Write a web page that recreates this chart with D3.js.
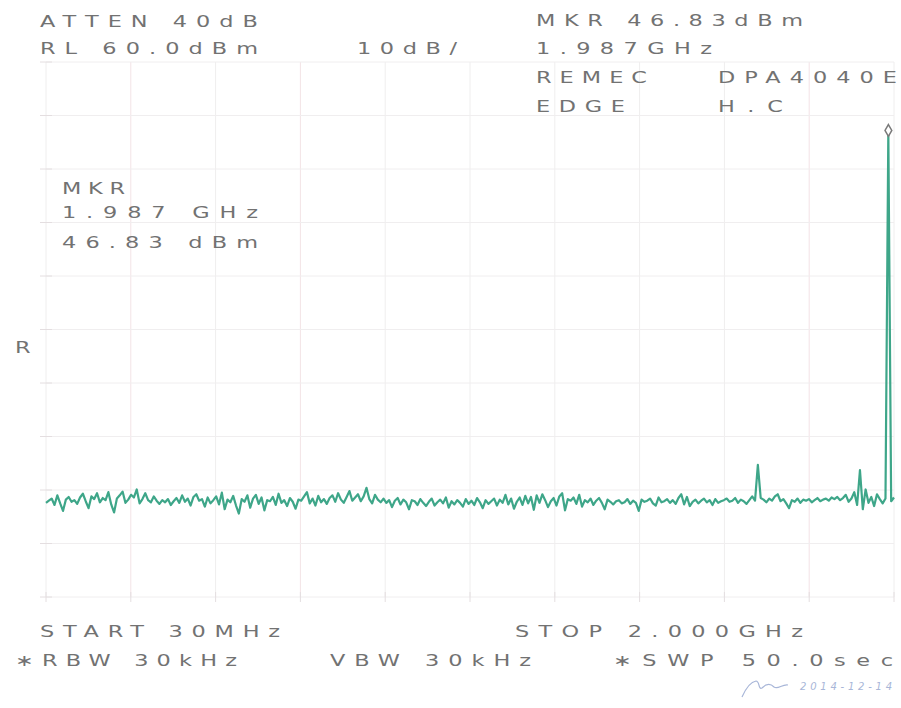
<!DOCTYPE html>
<html>
<head>
<meta charset="utf-8">
<script src="https://cdn.jsdelivr.net/npm/d3@7"></script>
<style>
  html, body { margin: 0; padding: 0; background: #ffffff; }
  svg { display: block; }
  text { font-family: "DejaVu Sans", sans-serif; fill: #727272; }
</style>
</head>
<body>
<svg id="chart" width="901" height="708"></svg>
<script>
// ---- Instrument settings (spectrum analyzer plot) ----
const startMHz = 30;
const stopMHz = 2000;
const refLevel = 60;      // dBm, top of screen
const dbPerDiv = 10;
const divisionsX = 10;
const divisionsY = 10;

// ---- Marker ----
const markerFreqMHz = 1987;
const markerLevel = 46.83;

// ---- Trace levels (dBm), 300 sweep points from START to STOP ----
const traceLevels = [
  -22.4,-22.0,-21.6,-22.8,-21.0,-22.5,-23.9,-21.8,-21.3,-22.2,
  -21.9,-22.6,-21.4,-20.7,-22.1,-23.4,-21.2,-21.7,-20.6,-22.3,
  -21.5,-21.9,-20.4,-22.7,-24.2,-21.6,-21.0,-20.3,-22.4,-21.8,
  -20.9,-21.4,-19.9,-22.5,-21.7,-20.6,-21.9,-22.3,-21.2,-22.0,
  -22.6,-21.9,-22.3,-21.7,-22.8,-22.1,-21.5,-22.4,-21.0,-22.2,
  -21.6,-22.9,-21.3,-20.8,-22.0,-21.7,-23.1,-21.4,-22.5,-21.9,
  -21.2,-22.7,-20.5,-23.6,-21.8,-22.3,-21.1,-22.9,-24.4,-21.7,
  -22.2,-21.0,-23.3,-21.6,-20.9,-22.6,-21.4,-23.8,-21.9,-22.1,
  -21.3,-22.8,-20.7,-22.4,-21.9,-23.0,-21.5,-22.2,-23.5,-21.8,
  -22.0,-21.2,-20.4,-22.5,-21.6,-22.9,-21.1,-22.3,-21.7,-22.6,
  -21.5,-21.0,-22.2,-20.6,-21.8,-22.4,-21.3,-20.2,-22.0,-21.4,
  -20.8,-22.1,-21.2,-19.6,-21.7,-22.5,-20.9,-21.8,-22.3,-21.6,
  -22.4,-21.9,-23.2,-22.0,-21.5,-22.7,-21.8,-22.3,-23.6,-21.9,
  -22.1,-22.8,-21.7,-22.4,-23.0,-22.2,-21.6,-22.9,-22.3,-21.8,
  -22.5,-21.4,-23.3,-22.1,-22.7,-21.9,-22.4,-23.1,-21.7,-22.6,
  -22.0,-22.8,-21.5,-22.3,-23.4,-21.9,-22.6,-22.1,-21.6,-22.9,
  -21.8,-22.4,-20.9,-22.7,-21.6,-23.5,-22.2,-21.4,-22.8,-21.1,
  -22.5,-21.3,-23.7,-21.0,-22.4,-20.8,-21.9,-23.2,-22.1,-21.5,
  -22.9,-21.2,-20.6,-23.8,-21.7,-22.0,-21.4,-22.6,-20.9,-23.1,
  -21.9,-22.3,-21.6,-22.8,-22.0,-21.5,-22.4,-23.6,-21.8,-22.2,
  -22.7,-22.1,-21.9,-22.5,-22.3,-21.7,-22.6,-22.0,-22.4,-23.9,
  -21.8,-22.2,-22.0,-21.6,-22.5,-22.9,-21.4,-22.3,-22.1,-21.7,
  -22.4,-21.9,-22.6,-21.5,-20.8,-22.7,-21.3,-23.0,-22.2,-21.8,
  -22.5,-22.0,-21.6,-22.3,-21.9,-22.8,-21.7,-22.4,-22.1,-21.9,
  -21.6,-22.2,-22.0,-21.5,-22.4,-21.8,-22.1,-22.6,-21.9,-21.2,
  -22.0,-15.3,-21.5,-21.8,-22.3,-21.6,-22.0,-21.2,-20.8,-22.1,
  -21.7,-22.5,-23.4,-21.9,-22.2,-21.6,-22.4,-21.8,-22.0,-21.7,
  -22.3,-21.9,-21.5,-22.1,-21.8,-21.6,-22.0,-21.4,-21.7,-21.3,
  -21.9,-21.5,-20.9,-22.2,-21.6,-20.4,-22.8,-16.3,-23.6,-19.9,
  -22.4,-21.3,-23.0,-20.8,-21.7,-22.5,-21.6,46.83,-22.1,-21.4
];

// ---- Screen annotations ----
const headerTexts = [
  { t: "ATTEN 40dB",   x: 40,  y: 27,  w: 218 },
  { t: "RL 60.0dBm",   x: 40,  y: 54,  w: 218 },
  { t: "10dB/",        x: 357, y: 54,  w: 100 },
  { t: "MKR 46.83dBm", x: 536, y: 26,  w: 267 },
  { t: "1.987GHz",     x: 536, y: 54,  w: 176 },
  { t: "REMEC",        x: 536, y: 83,  w: 111 },
  { t: "DPA4040E",     x: 718, y: 83,  w: 179 },
  { t: "EDGE",         x: 536, y: 112, w: 89 },
  { t: "H.C",          x: 718, y: 112, w: 65 },
  { t: "MKR",          x: 62,  y: 194, w: 63 },
  { t: "1.987 GHz",    x: 62,  y: 218, w: 196 },
  { t: "46.83 dBm",    x: 62,  y: 248, w: 196 },
  { t: "R",            x: 15,  y: 353, w: 18 },
  { t: "START 30MHz",  x: 40,  y: 637, w: 240 },
  { t: "STOP 2.000GHz",x: 515, y: 637, w: 288 },
  { t: "\u2217RBW 30kHz",   x: 15,  y: 666, w: 222 },
  { t: "VBW 30kHz",    x: 330, y: 666, w: 201 },
  { t: "\u2217SWP 50.0sec", x: 613, y: 666, w: 280 }
];

const svg = d3.select("#chart");

const x = d3.scaleLinear().domain([startMHz, stopMHz]).range([46, 894]);
const y = d3.scaleLinear().domain([refLevel - dbPerDiv * divisionsY, refLevel]).range([597, 62]);

// graticule
const xTicks = d3.range(divisionsX + 1).map(i => startMHz + i * (stopMHz - startMHz) / divisionsX);
const yTicks = d3.range(divisionsY + 1).map(i => refLevel - i * dbPerDiv);

const grid = svg.append("g");
grid.selectAll("line.v").data(xTicks).join("line")
  .attr("x1", d => x(d)).attr("x2", d => x(d))
  .attr("y1", y.range()[1]).attr("y2", y.range()[0])
  .attr("stroke", (d, i) => (i === 1 || i === 3 || i === 9) ? "#f3e3e6" : "#efeeee")
  .attr("stroke-width", 1);
grid.selectAll("line.h").data(yTicks).join("line")
  .attr("x1", x.range()[0]).attr("x2", x.range()[1])
  .attr("y1", d => y(d)).attr("y2", d => y(d))
  .attr("stroke", "#f0eeef")
  .attr("stroke-width", 1);
grid.selectAll("line.lt").data(yTicks).join("line")
  .attr("x1", x.range()[0] - 6).attr("x2", x.range()[0] + 6)
  .attr("y1", d => y(d)).attr("y2", d => y(d))
  .attr("stroke", "#e4dee0");
grid.selectAll("line.bt").data(xTicks).join("line")
  .attr("x1", d => x(d)).attr("x2", d => x(d))
  .attr("y1", y.range()[0] - 5).attr("y2", y.range()[0] + 5)
  .attr("stroke", "#e4dee0");

// trace
const step = (stopMHz - startMHz) / (traceLevels.length - 1);
const line = d3.line()
  .x((d, i) => x(startMHz + i * step))
  .y(d => y(d));
svg.append("path")
  .datum(traceLevels)
  .attr("d", line)
  .attr("fill", "none")
  .attr("stroke", "#3ea689")
  .attr("stroke-width", 2.2)
  .attr("stroke-linejoin", "round");

// marker
svg.append("path")
  .attr("d", d3.symbol().type(d3.symbolDiamond).size(40)())
  .attr("transform", `translate(${x(markerFreqMHz)},${y(markerLevel) - 2})`)
  .attr("fill", "#ffffff")
  .attr("stroke", "#7a7a7a")
  .attr("stroke-width", 1.5);

// annotations: plotter-style wide lettering (horizontally stretched glyphs)
const sx = 1.4;
svg.append("g").selectAll("text").data(headerTexts).join("text")
  .attr("transform", d => `translate(${d.x},${d.y}) scale(${sx},1)`)
  .attr("x", 0)
  .attr("y", 0)
  .attr("font-size", 16)
  .attr("textLength", d => d.t.length > 1 ? d.w / sx : null)
  .attr("lengthAdjust", "spacing")
  .text(d => d.t);

// handwritten sign-off
svg.append("path")
  .attr("d", "M742,697 C746,688 750,682 756,681 C760,681 758,690 762,688 C766,684 770,683 774,687 C778,690 782,684 788,685")
  .attr("fill", "none")
  .attr("stroke", "#a8b6d8")
  .attr("stroke-width", 1.2);
svg.append("text")
  .attr("x", 800).attr("y", 690)
  .attr("font-size", 10)
  .attr("font-style", "italic")
  .style("fill", "#a8b6d8")
  .attr("textLength", 92)
  .attr("lengthAdjust", "spacing")
  .text("2014-12-14");
</script>
</body>
</html>
